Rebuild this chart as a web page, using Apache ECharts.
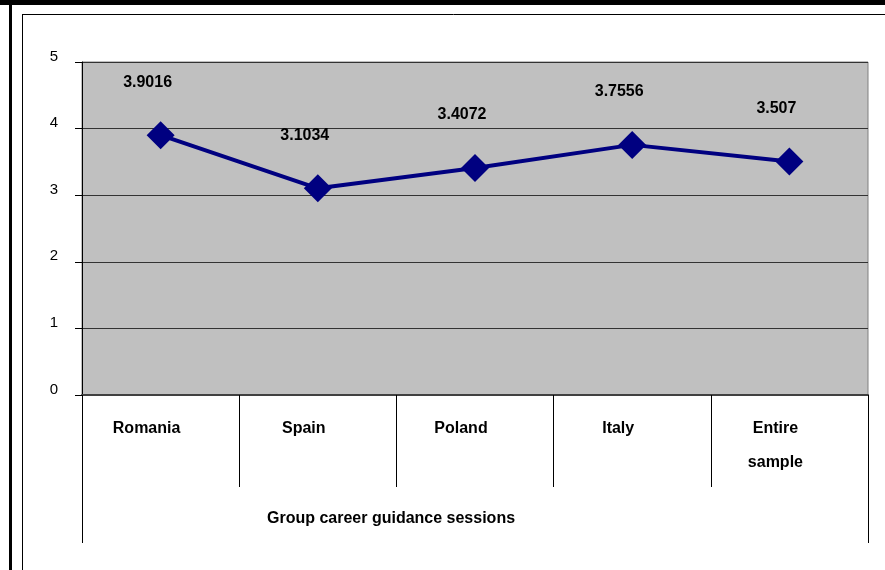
<!DOCTYPE html>
<html>
<head>
<meta charset="utf-8">
<style>
  html, body { margin: 0; padding: 0; background: #ffffff; }
  #chart { width: 885px; height: 570px; }
</style>
<script src="https://cdn.jsdelivr.net/npm/echarts@6/dist/echarts.min.js"></script>
</head>
<body>
<div id="chart"></div>
<script>
// Mean scores per country for the group career guidance sessions
const categories = ['Romania', 'Spain', 'Poland', 'Italy', 'Entire\nsample'];
const scores = [3.9016, 3.1034, 3.4072, 3.7556, 3.507];
const groupLabel = ['Group career guidance sessions'];
const yTicks = { min: 0, max: 5, interval: 1 };

const FONT = '"Liberation Sans", Arial, sans-serif';
const chart = echarts.init(document.getElementById('chart'), null, { renderer: 'canvas' });

chart.setOption({
  backgroundColor: '#ffffff',
  animation: false,
  textStyle: { fontFamily: FONT },
  grid: {
    left: 82, right: 17, top: 62, bottom: 175,
    show: true,
    backgroundColor: '#C0C0C0',
    borderColor: '#808080',
    borderWidth: 1,
    containLabel: false
  },
  xAxis: [
    {
      type: 'category',
      data: categories,
      position: 'bottom',
      boundaryGap: true,
      axisLine: { show: true, lineStyle: { color: '#404040', width: 2 } },
      axisTick: { show: true, length: 92, lineStyle: { color: '#000000', width: 1 } },
      axisLabel: {
        margin: 17,
        color: '#000000',
        fontFamily: FONT,
        fontSize: 16,
        fontWeight: 'bold',
        lineHeight: 34,
        verticalAlign: 'top',
        padding: [0, 28, 0, 0]
      },
      splitLine: { show: false }
    },
    {
      // outer bracket of the category group with its caption
      type: 'category',
      data: groupLabel,
      position: 'bottom',
      offset: 0,
      gridIndex: 0,
      boundaryGap: true,
      axisLine: { show: false },
      axisTick: { show: true, length: 148, lineStyle: { color: '#000000', width: 1 } },
      axisLabel: {
        margin: 116,
        color: '#000000',
        fontFamily: FONT,
        fontSize: 16,
        fontWeight: 'bold',
        padding: [0, 168, 0, 0]
      },
      splitLine: { show: false }
    }
  ],
  yAxis: {
    type: 'value',
    min: yTicks.min,
    max: yTicks.max,
    interval: yTicks.interval,
    axisLine: { show: true, lineStyle: { color: '#000000', width: 1 } },
    axisTick: { show: true, length: 7, lineStyle: { color: '#000000' } },
    axisLabel: {
      margin: 24,
      color: '#000000',
      fontFamily: FONT,
      fontSize: 15,
      lineHeight: 11,
      verticalAlign: 'bottom'
    },
    splitLine: { show: true, lineStyle: { color: '#333333', width: 1 } }
  },
  series: [
    {
      type: 'line',
      xAxisIndex: 0,
      data: scores,
      symbol: 'diamond',
      symbolSize: 28,
      lineStyle: { color: '#000080', width: 4 },
      itemStyle: { color: '#000080' },
      label: {
        show: true,
        position: 'top',
        distance: 0,
        offset: [-13, -31],
        color: '#000000',
        fontFamily: FONT,
        fontSize: 16,
        fontWeight: 'bold',
        formatter: p => String(p.value)
      }
    }
  ],
  graphic: [
    // page frame
    { type: 'rect', shape: { x: 0, y: 0, width: 885, height: 5 }, style: { fill: '#000000' } },
    { type: 'rect', shape: { x: 9, y: 0, width: 3, height: 570 }, style: { fill: '#000000' } },
    { type: 'line', shape: { x1: 22.5, y1: 14, x2: 22.5, y2: 570 }, style: { stroke: '#000000', lineWidth: 1 } },
    { type: 'line', shape: { x1: 22, y1: 14.5, x2: 885, y2: 14.5 }, style: { stroke: '#000000', lineWidth: 1 } }
  ]
});
</script>
</body>
</html>
